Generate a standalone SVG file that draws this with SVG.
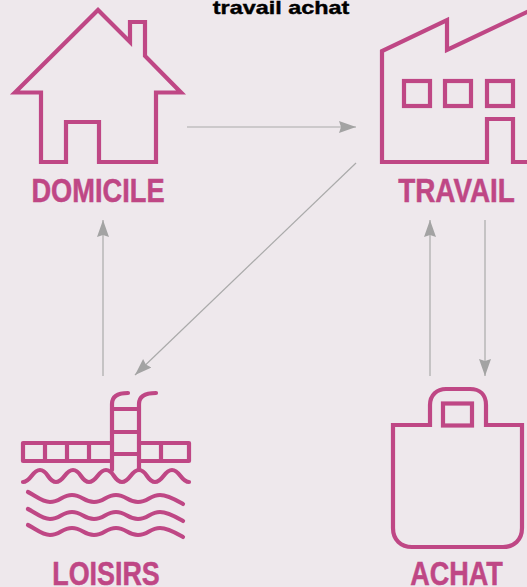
<svg xmlns="http://www.w3.org/2000/svg" width="527" height="587" viewBox="0 0 527 587">
<style>
.i{fill:none;stroke:#bf4785;stroke-width:4.2;stroke-linecap:butt;stroke-linejoin:miter}
.r{stroke-linecap:round;stroke-linejoin:round}
.l{font-family:"Liberation Sans",Arial,sans-serif;font-weight:700;font-size:33px;fill:#bf4785;stroke:#bf4785;stroke-width:.5;text-anchor:middle}
.c{fill:none;stroke:#aaa;stroke-width:1.2;marker-end:url(#a)}
</style>
<defs><marker id="a" markerUnits="userSpaceOnUse" markerWidth="18" markerHeight="14" refX="17" refY="6" orient="auto"><path d="M0 0L17 6L0 12L2 6Z" fill="#a3a3a3"/></marker></defs>
<rect width="527" height="587" fill="#eee8ec"/>
<text transform="translate(281 14) scale(1.3 1)" font-family="'Liberation Sans',Arial,sans-serif" font-weight="700" font-size="18" text-anchor="middle" fill="#000" stroke="#000" stroke-width=".4">travail achat</text>
<g id="connectors">
<line class="c" x1="187" y1="127" x2="356" y2="127"/>
<line class="c" x1="356" y1="163" x2="135" y2="375"/>
<line class="c" x1="103" y1="376" x2="103" y2="220"/>
<line class="c" x1="430" y1="376" x2="430" y2="220"/>
<line class="c" x1="485" y1="220" x2="485" y2="376"/>
</g>
<g id="domicile">
<path class="i" d="M15 92.500L98 10L130 42V22H145V56L181 92.500H156V162H99V122H66V162H41V92.500Z"/>
<text class="l" transform="translate(98 201.500) scale(.825 1)">DOMICILE</text>
</g>
<g id="travail">
<path class="i" d="M529 11L447 50V20L382 51V162H487V119H513V162H529"/>
<rect class="i" x="404" y="81" width="26" height="25"/>
<rect class="i" x="445" y="81" width="26" height="25"/>
<rect class="i" x="487" y="81" width="26" height="25"/>
<text class="l" transform="translate(456.500 201.500) scale(.845 1)">TRAVAIL</text>
</g>
<g id="loisirs">
<g class="i r">
<path d="M112 470V404C112 396 118 393 128 393M139 470V404C139 396 146 393 156 393"/>
<path d="M112 409H139M112 432H139M112 454H139"/>
<path d="M112 443H23V461H112M139 443H189V461H139M45 443V461M67 443V461M89 443V461M161 443V461"/>
<path d="M23 482C31 482 32 470 40 470C48 470 48 482 56 482C64 482 65 470 73 470C81 470 81 482 89 482C97 482 98 470 106 470C114 470 114 482 122 482C130 482 131 470 139 470C147 470 147 482 155 482C163 482 164 470 172 470C180 470 181 482 189 482"/>
<path d="M28 492C36 496 42 502 50 502C60 502 62 495 72 495C82 495 84 502 94 502C104 502 106 495 116 495C126 495 128 502 138 502C148 502 150 495 160 495C168 495 176 500 183 504"/>
<path d="M28 509C36 513 42 519 50 519C60 519 62 512 72 512C82 512 84 519 94 519C104 519 106 512 116 512C126 512 128 519 138 519C148 519 150 512 160 512C168 512 176 517 183 521"/>
<path d="M28 525C36 529 42 535 50 535C60 535 62 528 72 528C82 528 84 535 94 535C104 535 106 528 116 528C126 528 128 535 138 535C148 535 150 528 160 528C168 528 176 533 183 537"/>
</g>
<text class="l" transform="translate(106 585) scale(.815 1)">LOISIRS</text>
</g>
<g id="achat">
<path class="i" d="M430 425V405C430 395 437 389 446 389H470C480 389 486 395 486 405V425H522V528C522 540 514 547 503 547H412C401 547 393 540 393 528V425Z"/>
<rect class="i" x="443" y="403.500" width="29" height="22"/>
<text class="l" transform="translate(456.500 585) scale(.82 1)">ACHAT</text>
</g>
</svg>
